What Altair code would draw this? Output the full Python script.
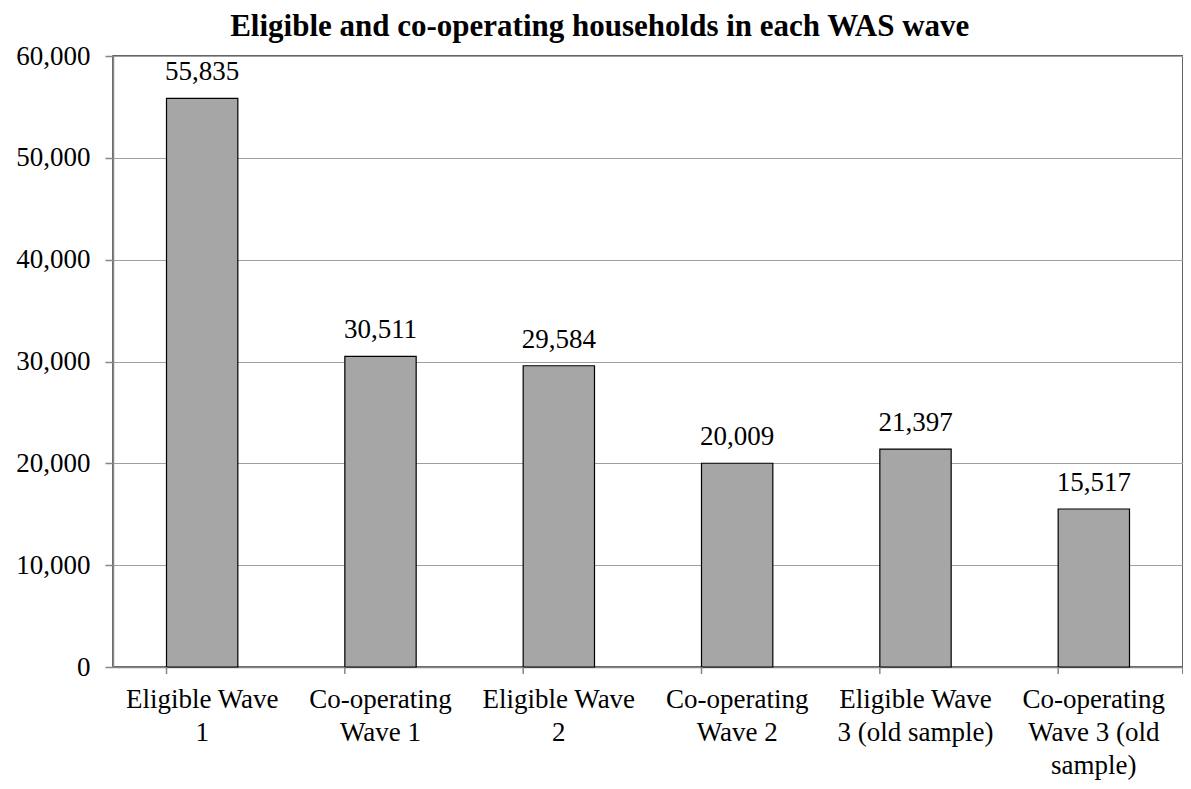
import altair as alt
import pandas as pd

categories = [
    "Eligible Wave 1",
    "Co-operating Wave 1",
    "Eligible Wave 2",
    "Co-operating Wave 2",
    "Eligible Wave 3 (old sample)",
    "Co-operating Wave 3 (old sample)",
]
label_lines = [
    ["Eligible Wave", "1"],
    ["Co-operating", "Wave 1"],
    ["Eligible Wave", "2"],
    ["Co-operating", "Wave 2"],
    ["Eligible Wave", "3 (old sample)"],
    ["Co-operating", "Wave 3 (old", "sample)"],
]
values = [55835, 30511, 29584, 20009, 21397, 15517]
y_ticks = [0, 10000, 20000, 30000, 40000, 50000, 60000]

df = pd.DataFrame({"cat": categories, "value": values})

FONT = "Liberation Serif, Times New Roman, serif"
W, H = 1070, 611

label_expr = "{" + ", ".join(
    f"{c!r}: {l!r}" for c, l in zip(categories, label_lines)
) + "}[datum.value]"
label_expr = label_expr.replace("'", '"')

x_scale = alt.Scale(paddingInner=0.6, paddingOuter=0.3)

base = alt.Chart(df)

bars = base.mark_bar(fill="#A6A6A6", stroke="#000000", strokeWidth=1.2).encode(
    x=alt.X(
        "cat:N",
        sort=categories,
        scale=x_scale,
        title=None,
        axis=alt.Axis(
            labelAngle=0,
            labelExpr=label_expr,
            labelFont=FONT,
            labelFontSize=27,
            labelColor="#000000",
            labelLineHeight=33,
            labelPadding=19,
            labelBaseline="top",
            labelOverlap=False,
            ticks=False,
            domainColor="#868686",
            domainWidth=1.5,
            grid=False,
        ),
    ),
    y=alt.Y(
        "value:Q",
        scale=alt.Scale(domain=[0, 60000], nice=False),
        title=None,
        axis=alt.Axis(
            values=y_ticks,
            format=",d",
            labelFont=FONT,
            labelFontSize=27,
            labelColor="#000000",
            labelPadding=15,
            tickSize=8,
            tickColor="#868686",
            tickWidth=1.5,
            domainColor="#868686",
            domainWidth=1.5,
            gridColor="#A0A0A0",
            gridWidth=1.2,
        ),
    ),
)

text = base.mark_text(
    font=FONT, fontSize=27, color="#000000", baseline="alphabetic", dy=-18
).encode(
    x=alt.X("cat:N", sort=categories, scale=x_scale),
    y=alt.Y("value:Q"),
    text=alt.Text("value:Q", format=",d"),
)

ticks = base.mark_rule(color="#868686", strokeWidth=1.5).encode(
    x=alt.X("cat:N", sort=categories, scale=x_scale, bandPosition=0),
    y=alt.value(H),
    y2=alt.value(H + 7),
)
right_tick = base.mark_rule(color="#868686", strokeWidth=1.5).encode(
    x=alt.value(W),
    y=alt.value(H),
    y2=alt.value(H + 7),
)

chart = (
    alt.layer(bars, text, ticks, right_tick)
    .properties(
        width=W,
        height=H,
        title=alt.Title(
            "Eligible and co-operating households in each WAS wave",
            font=FONT,
            fontSize=31,
            fontWeight="bold",
            color="#000000",
            anchor="middle",
            frame="bounds",
            offset=3,
            dy=4,
        ),
        autosize=alt.AutoSizeParams(type="none"),
        padding={"left": 105, "top": 48, "right": 0, "bottom": 114},
    )
    .configure_view(stroke="#333333", strokeWidth=1.5)
)

chart.save("out.html", embed_options={"renderer": "svg", "actions": False})
